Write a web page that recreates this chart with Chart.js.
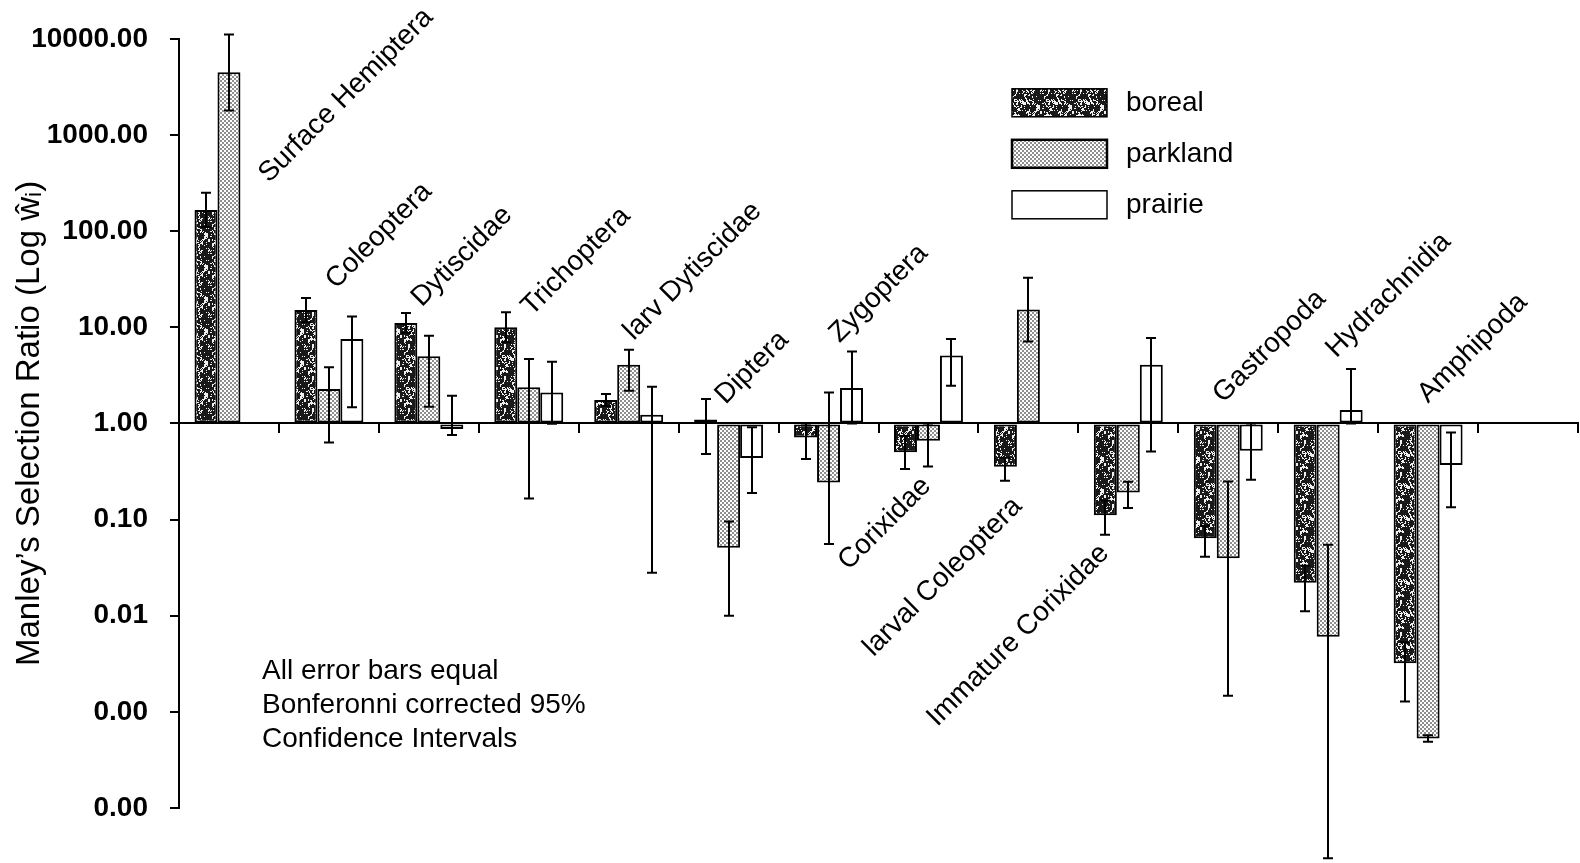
<!DOCTYPE html>
<html>
<head>
<meta charset="utf-8">
<script src="https://cdn.jsdelivr.net/npm/chart.js@4/dist/chart.umd.min.js"></script>
<style>
  html, body { margin: 0; padding: 0; background: #ffffff; }
  canvas { display: block; }
</style>
</head>
<body>
<canvas id="chart" width="1580" height="863"></canvas>
<script>
// Taxa along the x axis (one spare slot is left empty at the right end)
const categories = ['Surface Hemiptera', 'Coleoptera', 'Dytiscidae', 'Trichoptera', 'larv Dytiscidae',
  'Diptera', 'Zygoptera', 'Corixidae', 'larval Coleoptera', 'Immature Corixidae',
  'Gastropoda', 'Hydrachnidia', 'Amphipoda'];
const seriesNames = ['boreal', 'parkland', 'prairie'];

// Manley's selection ratio per taxon, with Bonferroni 95% confidence limits
const borealRatio = [166, 15.1, 11.1, 10.0, 1.75, 1.1, 0.715, 0.50, 0.355, 0.111, 0.064, 0.022, 0.0032];
const borealLower = [110, 11.3, 8.7, 7.0, 1.52, 0.48, 0.426, 0.336, 0.253, 0.0695, 0.041, 0.0111, 0.00128];
const borealUpper = [250, 20.2, 14.1, 14.3, 2.02, 1.79, 1.0, 0.74, 0.44, 0.157, 0.086, 0.033, 0.0053];

const parklandRatio = [4480, 2.28, 4.98, 2.37, 4.08, 0.051, 0.243, 0.66, 15.3, 0.191, 0.0397, 0.00603, 0.000527];
const parklandLower = [1800, 0.634, 1.49, 0.166, 2.19, 0.01, 0.0556, 0.357, 7.1, 0.132, 0.00147, 0.00003, 0.00049];
const parklandUpper = [11100, 3.83, 8.18, 4.68, 5.85, 0.0955, 2.1, 1.0, 32.8, 0.247, 0.249, 0.0547, 0.00057];

const prairieRatio = [null, 7.55, 0.875, 2.10, 1.23, 0.436, 2.34, 5.07, null, 4.08, 0.52, 1.38, 0.369];
const prairieLower = [null, 1.47, 0.757, 0.99, 0.0279, 0.189, 1.0, 2.47, null, 0.511, 0.26, 1.0, 0.134];
const prairieUpper = [null, 12.9, 1.94, 4.39, 2.41, 0.91, 5.61, 7.55, null, 7.74, 1.0, 3.68, 0.806];

// Decade ticks of the log axis
const yTicks = [10000, 1000, 100, 10, 1, 0.1, 0.01, 0.001, 0.0001];

const yTitle = 'Manley\u2019s Selection Ratio (Log \u0175\u1d62)';
const noteLines = ['All error bars equal', 'Bonferonni corrected 95%', 'Confidence Intervals'];

// Where each taxon name sits: horizontal shift from the group centre (px) and the axis value of its baseline start
const labelPlacement = [
  [40, 312], [7, 24.6], [-7, 16.0], [3, 12.9], [5, 7.2], [-3, 1.55], [11, 6.76],
  [-80, 0.0292], [-155, 0.0037], [-191, 0.00069], [-5, 1.6], [8, 4.72], [0, 1.6]
];

const FONT = "'Liberation Sans', Arial, Helvetica, sans-serif";

// Small deterministic hash used to build the mottled fill texture
function hash2(x, y) {
  let h = (Math.imul(x, 374761393) + Math.imul(y, 668265263)) | 0;
  h = Math.imul(h ^ (h >>> 13), 1274126177);
  h = h ^ (h >>> 16);
  return (h >>> 0) / 4294967296;
}

function borealPattern(ctx) {
  const n = 32;
  const c = document.createElement('canvas');
  c.width = n; c.height = n;
  const g = c.getContext('2d');
  const img = g.createImageData(n, n);
  for (let y = 0; y < n; y++) {
    for (let x = 0; x < n; x++) {
      const v = 0.55 * hash2(x >> 1, Math.floor(y / 3) + 17) + 0.45 * hash2(x + 57, y + 91);
      const k = v < 0.62 ? 25 : 240;
      const p = (y * n + x) * 4;
      img.data[p] = img.data[p + 1] = img.data[p + 2] = k;
      img.data[p + 3] = 255;
    }
  }
  g.putImageData(img, 0, 0);
  return ctx.createPattern(c, 'repeat');
}

function parklandPattern(ctx) {
  const c = document.createElement('canvas');
  c.width = 4; c.height = 4;
  const g = c.getContext('2d');
  g.fillStyle = '#ffffff';
  g.fillRect(0, 0, 4, 4);
  g.fillStyle = '#000000';
  g.beginPath(); g.arc(1, 1, 0.8, 0, Math.PI * 2); g.fill();
  g.beginPath(); g.arc(3, 3, 0.8, 0, Math.PI * 2); g.fill();
  return ctx.createPattern(c, 'repeat');
}

const canvas = document.getElementById('chart');
const ctx0 = canvas.getContext('2d');
const fills = [borealPattern(ctx0), parklandPattern(ctx0), '#ffffff'];
const legendBorder = [1.5, 2.5, 1.5];

// Confidence-interval whiskers drawn over each bar
const errorBars = {
  id: 'errorBars',
  afterDatasetsDraw(chart) {
    const ctx = chart.ctx;
    const ys = chart.scales.y;
    ctx.save();
    ctx.strokeStyle = '#000';
    ctx.lineWidth = 2;
    chart.data.datasets.forEach((ds, i) => {
      const meta = chart.getDatasetMeta(i);
      meta.data.forEach((bar, j) => {
        const lo = ds.errLow[j], hi = ds.errHigh[j];
        if (lo == null || hi == null) return;
        const x = Math.round(bar.x);
        const y1 = ys.getPixelForValue(lo);
        const y2 = ys.getPixelForValue(hi);
        ctx.beginPath();
        ctx.moveTo(x, y1); ctx.lineTo(x, y2);
        ctx.moveTo(x - 5, y1); ctx.lineTo(x + 5, y1);
        ctx.moveTo(x - 5, y2); ctx.lineTo(x + 5, y2);
        ctx.stroke();
      });
    });
    ctx.restore();
  }
};

// Taxon names, legend, axis title and the note
const annotations = {
  id: 'annotations',
  afterDraw(chart) {
    const ctx = chart.ctx;
    const xs = chart.scales.x, ys = chart.scales.y;
    const area = chart.chartArea;
    ctx.save();
    ctx.fillStyle = '#000';

    // rotated taxon names
    ctx.font = '28px ' + FONT;
    ctx.textAlign = 'left';
    ctx.textBaseline = 'alphabetic';
    categories.forEach((name, i) => {
      const [dx, level] = labelPlacement[i];
      const x = xs.getPixelForValue(i) + dx;
      const y = ys.getPixelForValue(level);
      ctx.save();
      ctx.translate(x, y);
      ctx.rotate(-Math.PI / 4);
      ctx.fillText(name, 0, 0);
      ctx.restore();
    });

    // y-axis title, centred on the axis
    ctx.save();
    ctx.font = '33px ' + FONT;
    ctx.textAlign = 'center';
    ctx.translate(39, (area.top + area.bottom) / 2);
    ctx.rotate(-Math.PI / 2);
    ctx.fillText(yTitle, 0, 0);
    ctx.restore();

    // legend
    const lx = area.left + 833, ly = area.top + 50;
    chart.data.datasets.forEach((ds, i) => {
      const top = ly + i * 51;
      ctx.fillStyle = ds.backgroundColor;
      ctx.fillRect(lx, top, 95, 28);
      ctx.lineWidth = legendBorder[i];
      ctx.strokeStyle = '#000';
      ctx.strokeRect(lx, top, 95, 28);
      ctx.fillStyle = '#000';
      ctx.font = '28px ' + FONT;
      ctx.textAlign = 'left';
      ctx.textBaseline = 'middle';
      ctx.fillText(ds.label, lx + 114, top + 14);
    });

    // note on the error bars
    ctx.font = '28px ' + FONT;
    ctx.textAlign = 'left';
    ctx.textBaseline = 'alphabetic';
    noteLines.forEach((t, i) => ctx.fillText(t, area.left + 83, 679 + i * 34));

    ctx.restore();
  }
};

const ratios = [borealRatio, parklandRatio, prairieRatio];
const lowers = [borealLower, parklandLower, prairieLower];
const uppers = [borealUpper, parklandUpper, prairieUpper];

new Chart(canvas, {
  type: 'bar',
  data: {
    labels: categories.concat(['']),
    datasets: seriesNames.map((name, i) => ({
      label: name,
      data: ratios[i],
      errLow: lowers[i],
      errHigh: uppers[i],
      base: 1,
      backgroundColor: fills[i],
      borderColor: '#000',
      borderWidth: 2,
      borderSkipped: false,
      categoryPercentage: 0.69,
      barPercentage: 1.0
    }))
  },
  options: {
    responsive: false,
    animation: false,
    devicePixelRatio: 1,
    layout: { padding: { top: 38, bottom: 55, left: 0, right: 2 } },
    plugins: {
      legend: { display: false },
      tooltip: { enabled: false }
    },
    scales: {
      x: {
        type: 'category',
        position: { y: 1 },
        offset: true,
        grid: { offset: true, drawOnChartArea: false, drawTicks: true, tickLength: 9, color: '#000', lineWidth: 2 },
        border: { display: true, color: '#000', width: 2 },
        ticks: { display: false }
      },
      y: {
        type: 'logarithmic',
        min: 0.0001,
        max: 10000,
        afterBuildTicks: (s) => { s.ticks = yTicks.map(v => ({ value: v })); },
        afterFit: (s) => { s.width = 179; },
        grid: { drawOnChartArea: false, drawTicks: true, tickLength: 9, color: '#000', lineWidth: 2 },
        border: { display: true, color: '#000', width: 2 },
        ticks: {
          color: '#000',
          padding: 22,
          font: { family: FONT, size: 28, weight: 'bold' },
          callback: (v) => Number(v).toFixed(2)
        }
      }
    }
  },
  plugins: [errorBars, annotations]
});
</script>
</body>
</html>
